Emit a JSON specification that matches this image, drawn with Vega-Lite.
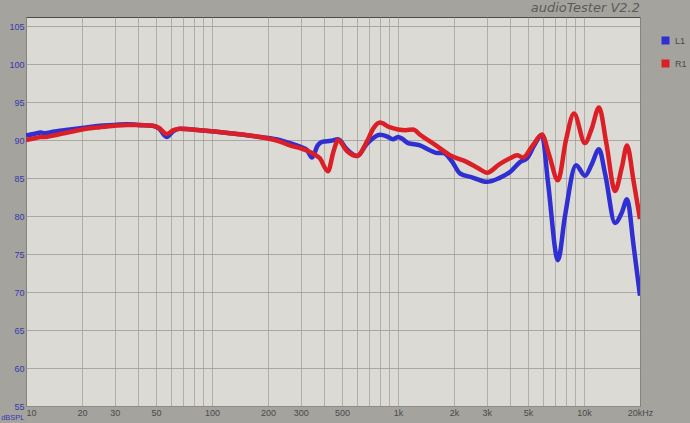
{
  "$schema": "https://vega.github.io/schema/vega-lite/v6.json",
  "width": 614,
  "height": 389,
  "autosize": {"type": "none"},
  "padding": {"left": 26, "top": 17, "right": 50, "bottom": 17},
  "background": "#a4a39e",
  "title": {"text": "audioTester V2.2", "anchor": "end", "frame": "group", "fontStyle": "italic", "fontWeight": "normal", "fontSize": 13, "font": "DejaVu Sans", "color": "#5c5b56", "offset": 2},
  "config": {
    "view": {"fill": "#dbdad5", "stroke": "#4a4a48", "strokeWidth": 1},
    "font": "Liberation Sans"
  },
  "data": {"values": [
    {"ch": "L1", "freq": 10, "db": 90.6},
    {"ch": "L1", "freq": 11, "db": 90.8},
    {"ch": "L1", "freq": 12, "db": 91.0},
    {"ch": "L1", "freq": 12.6, "db": 90.9},
    {"ch": "L1", "freq": 14, "db": 91.1},
    {"ch": "L1", "freq": 16, "db": 91.3},
    {"ch": "L1", "freq": 20, "db": 91.6},
    {"ch": "L1", "freq": 25, "db": 91.9},
    {"ch": "L1", "freq": 30, "db": 92.0},
    {"ch": "L1", "freq": 35, "db": 92.1},
    {"ch": "L1", "freq": 40, "db": 92.0},
    {"ch": "L1", "freq": 48, "db": 91.9},
    {"ch": "L1", "freq": 52, "db": 91.5},
    {"ch": "L1", "freq": 57, "db": 90.4},
    {"ch": "L1", "freq": 62, "db": 91.2},
    {"ch": "L1", "freq": 67, "db": 91.5},
    {"ch": "L1", "freq": 86, "db": 91.3},
    {"ch": "L1", "freq": 125, "db": 90.9},
    {"ch": "L1", "freq": 181, "db": 90.4},
    {"ch": "L1", "freq": 232, "db": 90.0},
    {"ch": "L1", "freq": 262, "db": 89.6},
    {"ch": "L1", "freq": 300, "db": 89.1},
    {"ch": "L1", "freq": 324, "db": 88.7},
    {"ch": "L1", "freq": 345, "db": 87.7},
    {"ch": "L1", "freq": 370, "db": 89.3},
    {"ch": "L1", "freq": 395, "db": 89.8},
    {"ch": "L1", "freq": 435, "db": 89.9},
    {"ch": "L1", "freq": 476, "db": 90.1},
    {"ch": "L1", "freq": 530, "db": 88.8},
    {"ch": "L1", "freq": 602, "db": 87.9},
    {"ch": "L1", "freq": 680, "db": 89.5},
    {"ch": "L1", "freq": 800, "db": 90.7},
    {"ch": "L1", "freq": 870, "db": 90.5},
    {"ch": "L1", "freq": 940, "db": 90.1},
    {"ch": "L1", "freq": 1000, "db": 90.4},
    {"ch": "L1", "freq": 1050, "db": 90.2},
    {"ch": "L1", "freq": 1132, "db": 89.6},
    {"ch": "L1", "freq": 1313, "db": 89.3},
    {"ch": "L1", "freq": 1500, "db": 88.6},
    {"ch": "L1", "freq": 1621, "db": 88.3},
    {"ch": "L1", "freq": 1746, "db": 88.3},
    {"ch": "L1", "freq": 1950, "db": 87.2},
    {"ch": "L1", "freq": 2155, "db": 85.6},
    {"ch": "L1", "freq": 2500, "db": 85.1},
    {"ch": "L1", "freq": 3010, "db": 84.5},
    {"ch": "L1", "freq": 3500, "db": 85.0},
    {"ch": "L1", "freq": 4000, "db": 85.8},
    {"ch": "L1", "freq": 4530, "db": 87.1},
    {"ch": "L1", "freq": 4940, "db": 87.6},
    {"ch": "L1", "freq": 5400, "db": 89.3},
    {"ch": "L1", "freq": 5945, "db": 90.7},
    {"ch": "L1", "freq": 6400, "db": 84.5},
    {"ch": "L1", "freq": 7245, "db": 74.2},
    {"ch": "L1", "freq": 7900, "db": 80.0},
    {"ch": "L1", "freq": 9060, "db": 86.7},
    {"ch": "L1", "freq": 10120, "db": 85.3},
    {"ch": "L1", "freq": 11000, "db": 86.8},
    {"ch": "L1", "freq": 12040, "db": 88.8},
    {"ch": "L1", "freq": 13000, "db": 85.5},
    {"ch": "L1", "freq": 14680, "db": 79.1},
    {"ch": "L1", "freq": 16000, "db": 80.5},
    {"ch": "L1", "freq": 17030, "db": 82.2},
    {"ch": "L1", "freq": 18500, "db": 76.0},
    {"ch": "L1", "freq": 20000, "db": 69.5},
    {"ch": "R1", "freq": 10, "db": 90.0},
    {"ch": "R1", "freq": 11, "db": 90.2},
    {"ch": "R1", "freq": 12, "db": 90.4},
    {"ch": "R1", "freq": 12.6, "db": 90.4},
    {"ch": "R1", "freq": 14, "db": 90.6},
    {"ch": "R1", "freq": 16, "db": 90.9},
    {"ch": "R1", "freq": 20, "db": 91.4},
    {"ch": "R1", "freq": 25, "db": 91.7},
    {"ch": "R1", "freq": 30, "db": 91.9},
    {"ch": "R1", "freq": 35, "db": 92.0},
    {"ch": "R1", "freq": 40, "db": 92.0},
    {"ch": "R1", "freq": 48, "db": 91.9},
    {"ch": "R1", "freq": 52, "db": 91.6},
    {"ch": "R1", "freq": 57, "db": 90.8},
    {"ch": "R1", "freq": 62, "db": 91.3},
    {"ch": "R1", "freq": 67, "db": 91.5},
    {"ch": "R1", "freq": 86, "db": 91.3},
    {"ch": "R1", "freq": 125, "db": 90.9},
    {"ch": "R1", "freq": 181, "db": 90.4},
    {"ch": "R1", "freq": 232, "db": 89.8},
    {"ch": "R1", "freq": 262, "db": 89.3},
    {"ch": "R1", "freq": 300, "db": 88.9},
    {"ch": "R1", "freq": 345, "db": 88.3},
    {"ch": "R1", "freq": 380, "db": 87.6},
    {"ch": "R1", "freq": 420, "db": 85.9},
    {"ch": "R1", "freq": 450, "db": 88.5},
    {"ch": "R1", "freq": 476, "db": 90.0},
    {"ch": "R1", "freq": 530, "db": 88.6},
    {"ch": "R1", "freq": 602, "db": 87.9},
    {"ch": "R1", "freq": 680, "db": 89.8},
    {"ch": "R1", "freq": 740, "db": 91.6},
    {"ch": "R1", "freq": 800, "db": 92.3},
    {"ch": "R1", "freq": 900, "db": 91.7},
    {"ch": "R1", "freq": 1000, "db": 91.4},
    {"ch": "R1", "freq": 1100, "db": 91.3},
    {"ch": "R1", "freq": 1205, "db": 91.4},
    {"ch": "R1", "freq": 1313, "db": 90.7},
    {"ch": "R1", "freq": 1621, "db": 89.2},
    {"ch": "R1", "freq": 1900, "db": 88.0},
    {"ch": "R1", "freq": 2350, "db": 87.1},
    {"ch": "R1", "freq": 2700, "db": 86.3},
    {"ch": "R1", "freq": 3010, "db": 85.7},
    {"ch": "R1", "freq": 3500, "db": 86.8},
    {"ch": "R1", "freq": 4000, "db": 87.6},
    {"ch": "R1", "freq": 4365, "db": 88.0},
    {"ch": "R1", "freq": 4700, "db": 87.7},
    {"ch": "R1", "freq": 5300, "db": 89.3},
    {"ch": "R1", "freq": 5945, "db": 90.7},
    {"ch": "R1", "freq": 6500, "db": 88.0},
    {"ch": "R1", "freq": 7245, "db": 84.7},
    {"ch": "R1", "freq": 8000, "db": 90.0},
    {"ch": "R1", "freq": 8830, "db": 93.5},
    {"ch": "R1", "freq": 10120, "db": 89.6},
    {"ch": "R1", "freq": 11000, "db": 91.5},
    {"ch": "R1", "freq": 12040, "db": 94.3},
    {"ch": "R1", "freq": 13200, "db": 89.5},
    {"ch": "R1", "freq": 14680, "db": 83.3},
    {"ch": "R1", "freq": 16000, "db": 86.5},
    {"ch": "R1", "freq": 17030, "db": 89.3},
    {"ch": "R1", "freq": 18500, "db": 84.5},
    {"ch": "R1", "freq": 20000, "db": 79.6}
  ]},
  "mark": {"type": "line", "interpolate": "monotone", "strokeWidth": 4.5, "clip": true},
  "encoding": {
    "x": {
      "field": "freq", "type": "quantitative",
      "scale": {"type": "log", "domain": [10, 20000], "nice": false},
      "axis": {
        "values": [10,20,30,40,50,60,70,80,90,100,200,300,400,500,600,700,800,900,1000,2000,3000,4000,5000,6000,7000,8000,9000,10000,20000],
        "labelExpr": "indexof([10,20,30,50,100,200,300,500,1000,2000,3000,5000,10000,20000], datum.value) >= 0 ? (datum.value >= 20000 ? '20kHz' : (datum.value >= 1000 ? (datum.value/1000) + 'k' : '' + datum.value)) : ''",
        "labelAlign": {"condition": {"test": "datum.value == 10", "value": "left"}, "value": "center"},
        "ticks": false, "domain": false, "grid": true,
        "gridColor": "#9c9b96", "gridOpacity": 0.7, "gridWidth": 1,
        "labelColor": "#4a4a4a", "labelFontSize": 9, "labelPadding": 2, "labelFlush": false, "labelOverlap": false,
        "title": "dBSPL", "titleColor": "#3838b0", "titleFontSize": 7.5, "titleFontWeight": "normal",
        "titleX": -2, "titleY": 11, "titleAlign": "right", "titleBaseline": "middle"
      }
    },
    "y": {
      "field": "db", "type": "quantitative",
      "scale": {"domain": [55, 106.2], "nice": false, "zero": false},
      "axis": {
        "values": [55,60,65,70,75,80,85,90,95,100,105],
        "ticks": false, "domain": false, "grid": true,
        "gridColor": "#9c9b96", "gridOpacity": 0.8,
        "labelColor": "#3838b0", "labelFontSize": 9, "labelPadding": 2,
        "title": null
      }
    },
    "color": {
      "field": "ch", "type": "nominal",
      "scale": {"domain": ["L1", "R1"], "range": ["#2f2fd2", "#dc1f26"]},
      "legend": {
        "orient": "none", "legendX": 635, "legendY": 19, "title": null,
        "symbolType": "square", "symbolSize": 16, "symbolStrokeWidth": 4,
        "labelColor": "#4a4a4a", "labelFontSize": 9, "rowPadding": 2, "labelOffset": 5
      }
    }
  }
}
